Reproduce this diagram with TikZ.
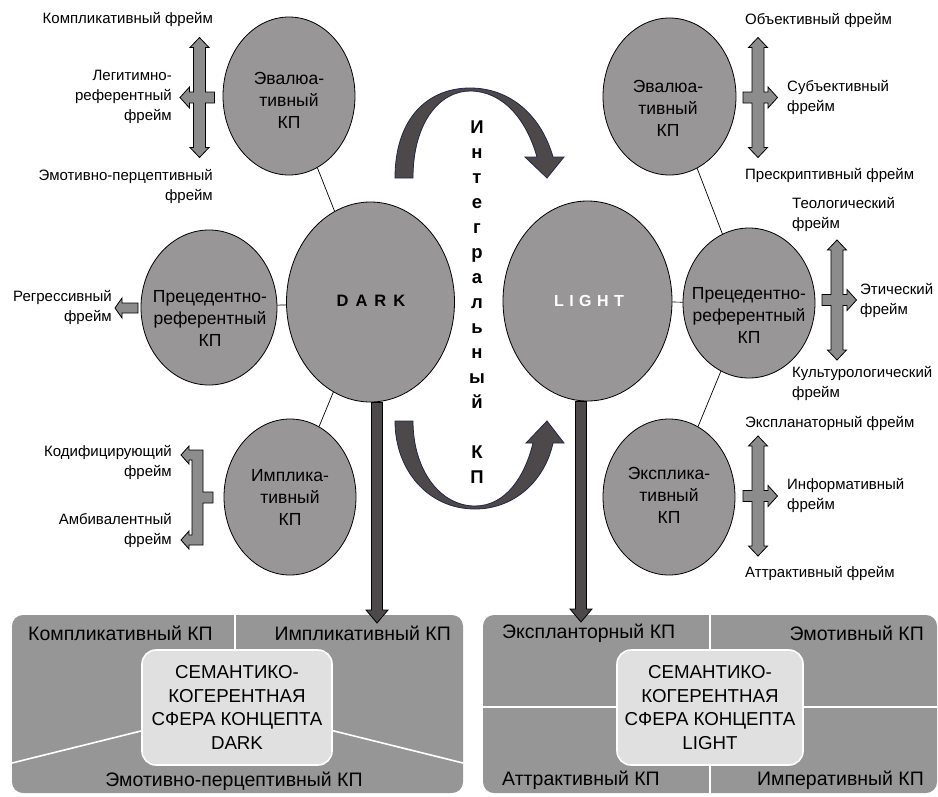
\documentclass[tikz,border=0pt]{standalone}
\usepackage{fontspec}
\setmainfont{Liberation Sans}
\usetikzlibrary{shapes.geometric}
\definecolor{bubfill}{RGB}{152,150,150}
\definecolor{frfill}{RGB}{140,140,140}
\definecolor{darkar}{RGB}{77,73,75}
\definecolor{navyline}{RGB}{35,38,70}
\definecolor{boxfill}{RGB}{150,150,150}
\definecolor{cboxfill}{RGB}{224,224,224}
\begin{document}
\begin{tikzpicture}[x=1pt,y=-1pt,
  bub/.style={ellipse, draw=black, line width=0.8pt, fill=bubfill, inner sep=0pt},
  bubtext/.style={font=\fontsize{17.5}{22}\selectfont, align=center, inner sep=0pt},
  lab/.style={font=\fontsize{15}{20}\selectfont, inner sep=0pt},
  labr/.style={lab, anchor=east, align=right},
  labl/.style={lab, anchor=west, align=left},
  frarr/.style={draw=black, line width=0.8pt, fill=frfill, line join=miter},
  conn/.style={draw=black, line width=0.7pt},
  bigar/.style={draw=black, line width=0.8pt, fill=darkar, line join=miter},
  bandar/.style={draw=navyline, line width=0.8pt, fill=darkar, line join=miter},
  bigbox/.style={fill=boxfill, rounded corners=11pt},
  wsep/.style={draw=white, line width=1.6pt},
  cbox/.style={rectangle, rounded corners=14pt, fill=cboxfill, draw=white, line width=1.6pt, inner sep=0pt, align=center, font=\fontsize{18.7}{23.5}\selectfont},
  boxlab/.style={font=\fontsize{19.5}{22}\selectfont, inner sep=0pt},
  vtext/.style={font=\fontsize{18.5}{25}\bfseries\selectfont, align=center, inner sep=0pt},
  frarrow/.pic={
    \draw[frarr] (0,-60) -- (9.5,-50) -- (6,-50) -- (6,-5.5) -- (10,-5.5) -- (10,-10.5) -- (19.5,0)
      -- (10,10.5) -- (10,5.5) -- (6,5.5) -- (6,50) -- (9.5,50) -- (0,60) -- (-9.5,50) -- (-6,50)
      -- (-6,5.5) -- (-15,5.5) -- (-15,-5.5) -- (-6,-5.5) -- (-6,-50) -- (-9.5,-50) -- cycle;
  }
]
\useasboundingbox (0,0) rectangle (938,796);

% ---------- bottom boxes ----------
\fill[bigbox] (12,615) rectangle (463,793);
\fill[bigbox] (483,615) rectangle (937,793);
% left box separators
\draw[wsep] (235,615) -- (235,652);
\draw[wsep] (12,763) -- (145,730);
\draw[wsep] (330,730) -- (463,763);
% right box separators
\draw[wsep] (710,615) -- (710,652);
\draw[wsep] (710,763) -- (710,793);
\draw[wsep] (483,707) -- (620,707);
\draw[wsep] (800,707) -- (937,707);

\node[cbox, minimum width=190pt, minimum height=115pt] (lc) at (237,707.5)
  {СЕМАНТИКО-\\КОГЕРЕНТНАЯ\\СФЕРА КОНЦЕПТА\\DARK};
\node[cbox, minimum width=186pt, minimum height=115pt] (rc) at (710,707.5)
  {СЕМАНТИКО-\\КОГЕРЕНТНАЯ\\СФЕРА КОНЦЕПТА\\LIGHT};

\node[boxlab, anchor=west] (b1) at (28,633) {Компликативный КП};
\node[boxlab, anchor=east] (b2) at (451,633) {Импликативный КП};
\node[boxlab] (b3) at (234,781) {Эмотивно-перцептивный КП};
\node[boxlab, anchor=west] (b4) at (502,633) {Экспланторный КП};
\node[boxlab, anchor=east] (b5) at (924,633) {Эмотивный КП};
\node[boxlab, anchor=west] (b6) at (502,780) {Аттрактивный КП};
\node[boxlab, anchor=east] (b7) at (924,780) {Императивный КП};

% ---------- bubbles ----------
\node[bub, minimum width=132pt, minimum height=158pt] (le) at (289,96) {};
\node[bub, minimum width=136pt, minimum height=155pt] (lp) at (209,307.5) {};
\node[bub, minimum width=132pt, minimum height=156pt] (li) at (290,497) {};
\node[bub, minimum width=168pt, minimum height=200pt] (dark) at (370.5,302) {};
\node[bub, minimum width=169pt, minimum height=200pt] (light) at (587.5,301) {};
\node[bub, minimum width=133pt, minimum height=157pt] (re) at (669.5,96.5) {};
\node[bub, minimum width=132pt, minimum height=150pt] (rp) at (749,303) {};
\node[bub, minimum width=132pt, minimum height=156pt] (rx) at (669,497) {};

% connectors
\draw[conn] (le) -- (dark);
\draw[conn] (lp) -- (dark);
\draw[conn] (li) -- (dark);
\draw[conn] (light) -- (rp);
\draw[conn] (re) -- (rp);
\draw[conn] (rx) -- (rp);

% bubble texts
\node[bubtext] (le-t) at (289,100) {Эвалюа-\\тивный\\КП};
\node[bubtext] (lp-t) at (210,318) {Прецедентно-\\референтный\\КП};
\node[bubtext] (li-t) at (290,497) {Имплика-\\тивный\\КП};
\node[bubtext] (re-t) at (668,108) {Эвалюа-\\тивный\\КП};
\node[bubtext] (rp-t) at (749,315) {Прецедентно-\\референтный\\КП};
\node[bubtext] (rx-t) at (669,495) {Эксплика-\\тивный\\КП};
\node[font=\fontsize{16.5}{18}\bfseries\selectfont, inner sep=0pt] (dark-t) at (371,301) {D\kern7pt A\kern7pt R\kern7pt K};
\node[font=\fontsize{16}{18}\bfseries\selectfont, inner sep=0pt, text=white] (light-t) at (589,301) {L\kern5.5pt I\kern5.5pt G\kern5.5pt H\kern5.5pt T};

% ---------- thick vertical arrows ----------
\coordinate (dtip) at (377,623);
\coordinate (dtop) at (dark.south -| dtip);
\draw[bigar] ([xshift=-5.5pt]dtop) -- ([xshift=-5.5pt,yshift=13pt]dtip) -- ([xshift=-11pt,yshift=13pt]dtip)
  -- (dtip) -- ([xshift=11pt,yshift=13pt]dtip) -- ([xshift=5.5pt,yshift=13pt]dtip) -- ([xshift=5.5pt]dtop) -- cycle;
\coordinate (ltip) at (581,622);
\coordinate (ltop) at (light.south -| ltip);
\draw[bigar] ([xshift=-5.5pt]ltop) -- ([xshift=-5.5pt,yshift=13pt]ltip) -- ([xshift=-11pt,yshift=13pt]ltip)
  -- (ltip) -- ([xshift=11pt,yshift=13pt]ltip) -- ([xshift=5.5pt,yshift=13pt]ltip) -- ([xshift=5.5pt]ltop) -- cycle;

% ---------- curved arrows ----------
\draw[bandar] (395,178) .. controls (395,118) and (428,88) .. (470,88)
  .. controls (510,88) and (541,115) .. (553,157) -- (564,157) -- (547,178) -- (525,157) -- (537,157)
  .. controls (526,118) and (502,91) .. (470,91)
  .. controls (440,91) and (413,122) .. (413,178) -- cycle;
\draw[bandar] (395,421) .. controls (395,470) and (428,509) .. (475,509)
  .. controls (515,509) and (545,480) .. (553,443) -- (564,443) -- (547,421) -- (526,443) -- (533,443)
  .. controls (525,476) and (506,506) .. (475,506)
  .. controls (440,506) and (413,470) .. (413,421) -- cycle;

\node[vtext] (integ) at (477,302) {И\\н\\т\\е\\г\\р\\а\\л\\ь\\н\\ы\\й\\[25pt]К\\П};

% ---------- frame arrows ----------
\pic[xscale=-1] at (199.5,97.5) {frarrow};
\pic at (758,97.5) {frarrow};
\pic at (837,300) {frarrow};
\pic at (758,496) {frarrow};
% left single arrow
\draw[frarr] (138,303) -- (122,303) -- (122,298) -- (115,308) -- (122,318) -- (122,313) -- (138,313) -- cycle;
% left bracket arrow
\draw[frarr] (203,450) -- (203,492) -- (213,492) -- (213,503) -- (203,503) -- (203,545) -- (189,545)
  -- (189,549) -- (181,540) -- (189,531) -- (189,535) -- (192,535) -- (192,460) -- (189,460)
  -- (189,464) -- (181,455) -- (189,446) -- (189,450) -- cycle;

% ---------- frame labels ----------
\node[labr] (f1) at (213,19) {Компликативный фрейм};
\node[labr] (f2) at (172,97) {Легитимно-\\референтный\\фрейм};
\node[labr] (f3) at (213,186) {Эмотивно-перцептивный\\фрейм};
\node[labr] (f4) at (112,307) {Регрессивный\\фрейм};
\node[labr] (f5) at (172,462) {Кодифицирующий\\фрейм};
\node[labr] (f6) at (172,530) {Амбивалентный\\фрейм};

\node[labl] (g1) at (745,20) {Объективный фрейм};
\node[labl] (g2) at (787,97) {Субъективный\\фрейм};
\node[labl] (g3) at (745,175) {Прескриптивный фрейм};
\node[labl] (g4) at (792,214) {Теологический\\фрейм};
\node[labl] (g5) at (860,300) {Этический\\фрейм};
\node[labl] (g6) at (792,383) {Культурологический\\фрейм};
\node[labl] (g7) at (745,423) {Экспланаторный фрейм};
\node[labl] (g8) at (787,495) {Информативный\\фрейм};
\node[labl] (g9) at (745,573) {Аттрактивный фрейм};
\end{tikzpicture}
\end{document}
